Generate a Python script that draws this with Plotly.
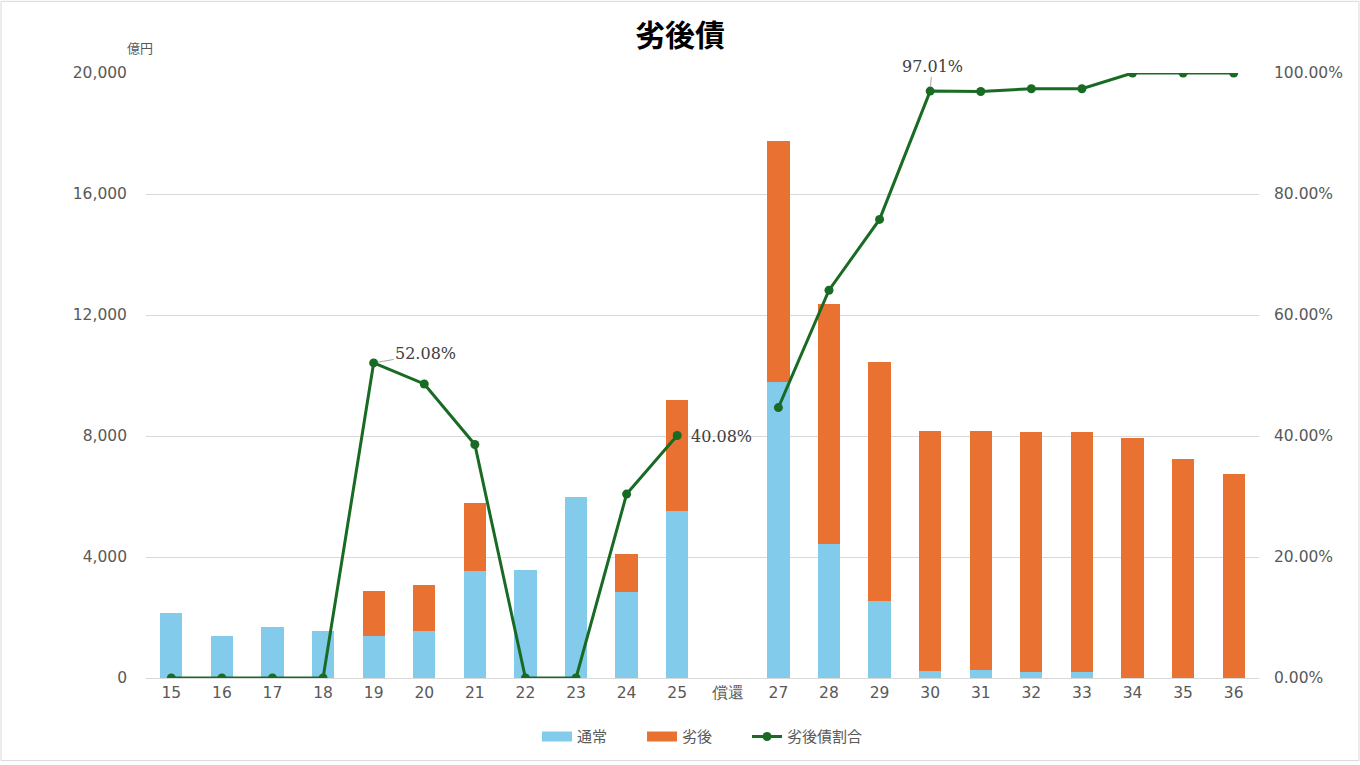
import plotly.graph_objects as go

categories = ["15", "16", "17", "18", "19", "20", "21", "22", "23", "24", "25", "償還",
              "27", "28", "29", "30", "31", "32", "33", "34", "35", "36"]
normal = [2150, 1390, 1700, 1560, 1375, 1565, 3540, 3580, 6000, 2830, 5510, None,
          9800, 4420, 2530, 245, 250, 210, 200, 0, 0, 0]
subordinated = [0, 0, 0, 0, 1495, 1510, 2250, 0, 0, 1280, 3690, None,
                7950, 7960, 7920, 7925, 7920, 7920, 7930, 7950, 7230, 6730]
ratio = [0, 0, 0, 0, 0.5208, 0.486, 0.386, 0, 0, 0.304, 0.4008, None,
         0.447, 0.641, 0.758, 0.9701, 0.9695, 0.974, 0.974, 1.0, 1.0, 1.0]
series_names = ["通常", "劣後", "劣後債割合"]

left_ticks = [0, 4000, 8000, 12000, 16000, 20000]
right_ticks = [0, 0.2, 0.4, 0.6, 0.8, 1.0]

BLUE = "#83CBEB"
ORANGE = "#E97132"
GREEN = "#196B24"
TICK_FONT = dict(family="DejaVu Sans, sans-serif", size=15.5, color="#595959")
PAD = "\u3000\u3000"  # legend spacing

fig = go.Figure()
fig.add_trace(go.Bar(x=categories, y=normal, name=series_names[0], showlegend=False,
                     marker=dict(color=BLUE, line=dict(width=0))))
fig.add_trace(go.Bar(x=categories, y=subordinated, name=series_names[1], showlegend=False,
                     marker=dict(color=ORANGE, line=dict(width=0))))
# legend-only entries drawn as wide bars, as in the reference legend
fig.add_trace(go.Scatter(x=[None], y=[None], name=series_names[0] + PAD, mode="lines",
                         line=dict(color=BLUE, width=10)))
fig.add_trace(go.Scatter(x=[None], y=[None], name=series_names[1] + PAD, mode="lines",
                         line=dict(color=ORANGE, width=10)))
fig.add_trace(go.Scatter(x=categories, y=ratio, name=series_names[2], yaxis="y2",
                         mode="lines+markers", line=dict(color=GREEN, width=3),
                         marker=dict(color=GREEN, size=9), connectgaps=False))

L, R, T, B = 146, 101, 73, 84
W, H = 1360, 765
pw, ph = W - L - R, H - T - B

ann_font = dict(family="DejaVu Serif, Liberation Serif, serif", size=16, color="#404040")
i19, i25, i30 = categories.index("19"), categories.index("25"), categories.index("30")
annotations = [
    dict(x=i19, y=ratio[i19], xref="x", yref="y2", text="52.08%", showarrow=True, ax=52, ay=-9,
         arrowhead=0, arrowwidth=1, arrowcolor="#A6A6A6", font=ann_font, standoff=4),
    dict(x=i25, y=ratio[i25], xref="x", yref="y2", text="40.08%", showarrow=False, xshift=44,
         yshift=-1, font=ann_font),
    dict(x=i30, y=ratio[i30], xref="x", yref="y2", text="97.01%", showarrow=True, ax=2, ay=-25,
         arrowhead=0, arrowwidth=1, arrowcolor="#A6A6A6", font=ann_font, standoff=4),
    dict(x=(140 - L) / pw, y=1 + (T - 47) / ph, xref="paper", yref="paper", text="億円",
         showarrow=False, xanchor="center", yanchor="middle",
         font=dict(family="Noto Sans CJK JP", size=13, color="#595959")),
]

shapes = [dict(type="rect", xref="paper", yref="paper",
               x0=(1 - L) / pw, x1=(W - 1 - L) / pw,
               y0=-(H - 1 - T - ph) / ph, y1=1 + (T - 1) / ph,
               line=dict(color="#D9D9D9", width=1), fillcolor="rgba(0,0,0,0)", layer="below")]

fig.update_layout(
    width=W, height=H,
    barmode="stack", bargap=0.56,
    plot_bgcolor="white", paper_bgcolor="white",
    margin=dict(l=L, r=R, t=T, b=B),
    title=dict(text="<b>劣後債</b>", x=0.5, xanchor="center", y=1 - 35 / H, yanchor="middle",
               font=dict(family="Noto Sans CJK JP", size=30, color="#000000")),
    xaxis=dict(type="category", categoryorder="array", categoryarray=categories,
               range=[-0.5, len(categories) - 0.5],
               tickfont=TICK_FONT, showgrid=False, showline=True, linecolor="#D9D9D9",
               ticks="", ticklen=0, fixedrange=True),
    yaxis=dict(range=[0, 20000], tickvals=left_ticks, tickformat=",", tickfont=TICK_FONT,
               showgrid=True, gridcolor="#D9D9D9", gridwidth=1, zeroline=False,
               showline=False, ticks="", ticklabelstandoff=18),
    yaxis2=dict(range=[0, 1], tickvals=right_ticks, tickformat=".2%", tickfont=TICK_FONT,
                overlaying="y", side="right", showgrid=False, zeroline=False, showline=False,
                ticks="", ticklabelstandoff=14),
    legend=dict(orientation="h", x=0.5, xanchor="center", y=-(740 - (H - B)) / ph,
                yanchor="middle", font=dict(family="Noto Sans CJK JP", size=15, color="#595959"),
                traceorder="normal"),
    annotations=annotations,
    shapes=shapes,
)

fig.write_html("out.html")
